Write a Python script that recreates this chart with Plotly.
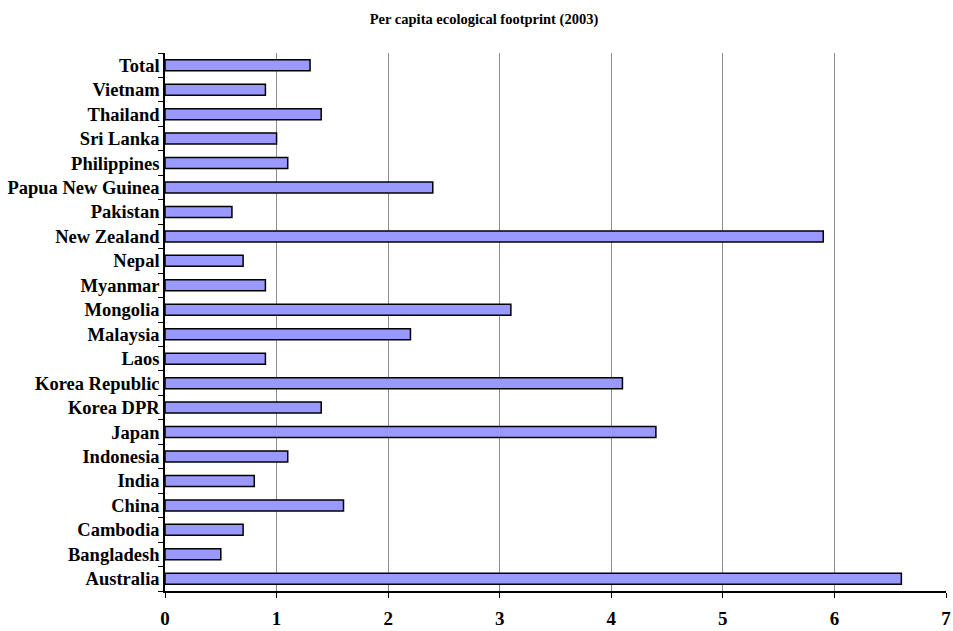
import plotly.graph_objects as go

countries = ["Australia", "Bangladesh", "Cambodia", "China", "India", "Indonesia",
             "Japan", "Korea DPR", "Korea Republic", "Laos", "Malaysia", "Mongolia",
             "Myanmar", "Nepal", "New Zealand", "Pakistan", "Papua New Guinea",
             "Philippines", "Sri Lanka", "Thailand", "Vietnam", "Total"]
footprint = [6.6, 0.5, 0.7, 1.6, 0.8, 1.1,
             4.4, 1.4, 4.1, 0.9, 2.2, 3.1,
             0.9, 0.7, 5.9, 0.6, 2.4,
             1.1, 1.0, 1.4, 0.9, 1.3]
x_ticks = [0, 1, 2, 3, 4, 5, 6, 7]

serif = "Liberation Serif, Times New Roman, serif"

fig = go.Figure(go.Bar(
    x=footprint, y=countries, orientation="h",
    marker=dict(color="#9999FF", line=dict(color="#000000", width=1.5)),
    width=0.45,
))

fig.update_layout(
    width=953, height=631,
    paper_bgcolor="white", plot_bgcolor="white",
    margin=dict(l=165, r=7, t=53, b=40),
    showlegend=False,
    title=dict(text="<b>Per capita ecological footprint (2003)</b>",
               x=484 / 953, xref="container", xanchor="center",
               y=1 - 19 / 631, yanchor="middle",
               font=dict(family=serif, size=14.5, color="black")),
    font=dict(family=serif, color="black"),
)

fig.update_xaxes(
    range=[0, 7], tickvals=x_ticks,
    ticktext=[f"<b>{v}</b>" for v in x_ticks],
    tickfont=dict(family=serif, size=19, color="black"),
    showgrid=True, gridcolor="#8c8c8c", gridwidth=1,
    showline=True, linecolor="black", linewidth=1.5,
    ticks="outside", ticklen=5, tickcolor="black", tickwidth=1,
    ticklabelstandoff=4, automargin=False,
    zeroline=False, fixedrange=True,
)

fig.update_yaxes(
    categoryorder="array", categoryarray=countries,
    tickvals=countries,
    ticktext=[f"<b>{c}</b>" for c in countries],
    tickfont=dict(family=serif, size=18.5, color="black"),
    showgrid=False,
    showline=True, linecolor="black", linewidth=1.5,
    ticks="outside", ticklen=5, tickcolor="black", tickwidth=1,
    tickson="boundaries", ticklabelstandoff=0, automargin=False,
    range=[-0.5, len(countries) - 0.5],
)

fig.write_html("out.html")
